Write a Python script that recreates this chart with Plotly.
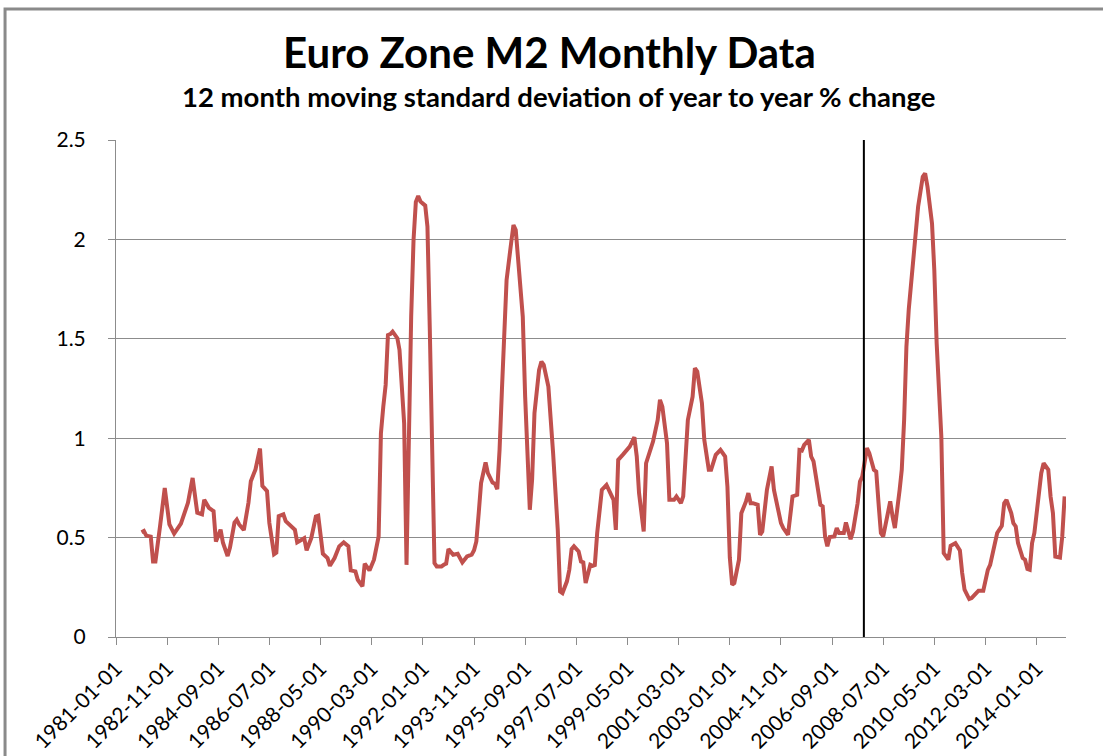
import plotly.graph_objects as go

# Month (YYYY-MM) and value
months = [
    "1981-12", "1982-01", "1982-02", "1982-04", "1982-05", "1982-06", "1982-08", "1982-10", "1982-12",
    "1983-02", "1983-05", "1983-07", "1983-08", "1983-10", "1983-11", "1983-12",
    "1984-02", "1984-03", "1984-05", "1984-07", "1984-08", "1984-10", "1984-11",
    "1985-01", "1985-02", "1985-04", "1985-05", "1985-06", "1985-08", "1985-10", "1985-11",
    "1986-01", "1986-03", "1986-04", "1986-06", "1986-07", "1986-09", "1986-10", "1986-11",
    "1987-01", "1987-02", "1987-03", "1987-05", "1987-06", "1987-07", "1987-10", "1987-11",
    "1988-01", "1988-03", "1988-04", "1988-06", "1988-08", "1988-09", "1988-11",
    "1989-01", "1989-03", "1989-05", "1989-06", "1989-08", "1989-09", "1989-11", "1989-12",
    "1990-02", "1990-04", "1990-06", "1990-07", "1990-08", "1990-09", "1990-10", "1990-11", "1990-12",
    "1991-02", "1991-03", "1991-04", "1991-05", "1991-06", "1991-07", "1991-08", "1991-09", "1991-10",
    "1991-11", "1991-12",
    "1992-02", "1992-03", "1992-04", "1992-05", "1992-06", "1992-07", "1992-09", "1992-10", "1992-11", "1992-12",
    "1993-02", "1993-04", "1993-06", "1993-08", "1993-10", "1993-11", "1993-12",
    "1994-01", "1994-02", "1994-04", "1994-05", "1994-07", "1994-08", "1994-09", "1994-10", "1994-11",
    "1995-01", "1995-03", "1995-04", "1995-05", "1995-06", "1995-08", "1995-09", "1995-10", "1995-11", "1995-12",
    "1996-01", "1996-03", "1996-04", "1996-05", "1996-07", "1996-09", "1996-11", "1996-12",
    "1997-01", "1997-03", "1997-04", "1997-05", "1997-06", "1997-08", "1997-09", "1997-10", "1997-11",
    "1998-01", "1998-02", "1998-03", "1998-04", "1998-06", "1998-08", "1998-10", "1998-11", "1998-12",
    "1999-01", "1999-03", "1999-05", "1999-06", "1999-08", "1999-09", "1999-10", "1999-12",
    "2000-01", "2000-03", "2000-04", "2000-06", "2000-07", "2000-08", "2000-10", "2000-11",
    "2001-01", "2001-02", "2001-04", "2001-05", "2001-06", "2001-07", "2001-09", "2001-10", "2001-11",
    "2002-01", "2002-02", "2002-04", "2002-05", "2002-07", "2002-09", "2002-11", "2002-12",
    "2003-01", "2003-02", "2003-03", "2003-05", "2003-06", "2003-08", "2003-09", "2003-10", "2003-11",
    "2004-01", "2004-02", "2004-03", "2004-05", "2004-07", "2004-08", "2004-11", "2004-12",
    "2005-02", "2005-03", "2005-04", "2005-06", "2005-07", "2005-08", "2005-09", "2005-11", "2005-12",
    "2006-01", "2006-02", "2006-04", "2006-05", "2006-06", "2006-07", "2006-08", "2006-10", "2006-11", "2006-12",
    "2007-02", "2007-03", "2007-05", "2007-06", "2007-08", "2007-09", "2007-10", "2007-12",
    "2008-01", "2008-03", "2008-04", "2008-05", "2008-06", "2008-07", "2008-09", "2008-10", "2008-11", "2008-12",
    "2009-02", "2009-03", "2009-04", "2009-05", "2009-06", "2009-07", "2009-08", "2009-10", "2009-12",
    "2010-01", "2010-02", "2010-04", "2010-05", "2010-06", "2010-08", "2010-09", "2010-11", "2010-12",
    "2011-02", "2011-04", "2011-05", "2011-06", "2011-08", "2011-09", "2011-11", "2011-12",
    "2012-02", "2012-04", "2012-05", "2012-06", "2012-08", "2012-10", "2012-11", "2012-12",
    "2013-02", "2013-03", "2013-04", "2013-05", "2013-07", "2013-08", "2013-09", "2013-10", "2013-11", "2013-12",
    "2014-02", "2014-03", "2014-04", "2014-06", "2014-07", "2014-08", "2014-09", "2014-11", "2014-12",
    "2015-01",
]

std_dev = [
    0.527, 0.533, 0.51, 0.505, 0.38, 0.38, 0.558, 0.75, 0.566,
    0.52, 0.57, 0.65, 0.675, 0.80, 0.725, 0.625,
    0.617, 0.69, 0.65, 0.633, 0.48, 0.54, 0.474,
    0.407, 0.45, 0.575, 0.59, 0.566, 0.538, 0.675, 0.784,
    0.843, 0.948, 0.76, 0.734, 0.575, 0.416, 0.424, 0.608,
    0.617, 0.583, 0.573, 0.556, 0.539, 0.476, 0.497, 0.436,
    0.497, 0.606, 0.61, 0.419, 0.397, 0.358, 0.397,
    0.456, 0.476, 0.456, 0.335, 0.33, 0.288, 0.255, 0.369,
    0.335, 0.389, 0.506, 1.025, 1.159, 1.268, 1.519, 1.524, 1.536,
    1.503, 1.444, 1.276, 1.075, 0.363, 1.075, 1.611, 1.997, 2.189,
    2.218, 2.19,
    2.17, 2.064, 1.544, 0.874, 0.372, 0.355, 0.355, 0.363, 0.369, 0.442,
    0.414, 0.419, 0.375, 0.405, 0.414, 0.436, 0.481,
    0.623, 0.774, 0.878, 0.824, 0.777, 0.771, 0.744, 0.941, 1.243,
    1.796, 1.98, 2.072, 2.047, 1.913, 1.611, 1.209, 0.874, 0.64, 0.791,
    1.126, 1.343, 1.385, 1.369, 1.26, 0.925, 0.539, 0.229,
    0.221, 0.28, 0.338, 0.442, 0.456, 0.43, 0.38, 0.375, 0.271,
    0.363, 0.358, 0.362, 0.523, 0.74, 0.765, 0.715, 0.69, 0.539,
    0.891, 0.916, 0.945, 0.958, 1.005, 0.908, 0.724, 0.531,
    0.874, 0.958, 0.983, 1.092, 1.193, 1.159, 0.975, 0.69,
    0.69, 0.707, 0.673, 0.707, 0.891, 1.092, 1.209, 1.352, 1.335,
    1.176, 0.992, 0.841, 0.841, 0.916, 0.941, 0.908, 0.757,
    0.40, 0.263, 0.271, 0.389, 0.623, 0.682, 0.724, 0.673, 0.673,
    0.665, 0.514, 0.531, 0.74, 0.858, 0.74, 0.573, 0.548,
    0.514, 0.606, 0.707, 0.715, 0.941, 0.938, 0.966, 0.992, 0.908,
    0.883, 0.807, 0.665, 0.657, 0.506, 0.456, 0.503, 0.506, 0.548, 0.523,
    0.523, 0.576, 0.492, 0.531, 0.673, 0.782, 0.807, 0.95,
    0.925, 0.841, 0.832, 0.673, 0.523, 0.506, 0.623, 0.682, 0.606, 0.548,
    0.74, 0.841, 1.092, 1.461, 1.65, 1.77, 1.879, 2.164, 2.315,
    2.332, 2.265, 2.08, 1.846, 1.477, 1.008, 0.422, 0.389, 0.459,
    0.472, 0.436, 0.322, 0.238, 0.191, 0.196, 0.221, 0.233,
    0.233, 0.338, 0.363, 0.422, 0.523, 0.559, 0.673, 0.69,
    0.623, 0.573, 0.556, 0.472, 0.397, 0.389, 0.342, 0.338, 0.472, 0.523,
    0.757, 0.824, 0.874, 0.841, 0.707, 0.623, 0.405, 0.40, 0.506,
    0.707,
]

tick_labels = [
    "1981-01-01", "1982-11-01", "1984-09-01", "1986-07-01", "1988-05-01", "1990-03-01",
    "1992-01-01", "1993-11-01", "1995-09-01", "1997-07-01", "1999-05-01", "2001-03-01",
    "2003-01-01", "2004-11-01", "2006-09-01", "2008-07-01", "2010-05-01", "2012-03-01",
    "2014-01-01",
]

marker_date = "2007-10-22"
x_range = ["1981-01-01", "2015-01-19"]
y_ticks = [0, 0.5, 1, 1.5, 2, 2.5]
y_tick_text = ["0", "0.5", "1", "1.5", "2", "2.5"]

FONT = "Lato"
GRID = "#8c8c8c"

fig = go.Figure()
fig.add_trace(go.Scatter(
    x=months, y=std_dev, mode="lines",
    line=dict(color="#C0504D", width=4),
    showlegend=False, hoverinfo="x+y",
))

fig.update_layout(
    width=1103, height=756,
    margin=dict(l=116, r=37, t=140, b=119),
    paper_bgcolor="white", plot_bgcolor="white",
    font=dict(family=FONT, color="#000000"),
    xaxis=dict(
        type="date", range=x_range,
        tickmode="array", tickvals=tick_labels, ticktext=tick_labels,
        tickangle=-45, tickfont=dict(size=21, family=FONT, color="#000"),
        ticks="outside", ticklen=7, tickcolor=GRID, tickwidth=1,
        ticklabelstandoff=3,
        showgrid=False, showline=True, linecolor=GRID, linewidth=1,
        zeroline=False, automargin=False,
    ),
    yaxis=dict(
        range=[0, 2.5], tickmode="array", tickvals=y_ticks, ticktext=y_tick_text,
        tickfont=dict(size=21, family=FONT, color="#000"),
        ticks="outside", ticklen=7, tickcolor=GRID,
        ticklabelstandoff=18,
        showgrid=True, gridcolor=GRID, gridwidth=1,
        showline=True, linecolor=GRID, linewidth=1, zeroline=False,
        automargin=False,
    ),
    annotations=[
        dict(text="<b>Euro Zone M2 Monthly Data</b>", xref="paper", yref="paper",
             x=0.4568, y=1.177, xanchor="center", yanchor="middle",
             showarrow=False, font=dict(size=42, family=FONT, color="#000")),
        dict(text="<b>12 month moving standard deviation of year to year % change</b>",
             xref="paper", yref="paper", x=0.466, y=1.0885,
             xanchor="center", yanchor="middle", showarrow=False,
             font=dict(size=27.5, family=FONT, color="#000")),
    ],
    shapes=[
        dict(type="line", xref="x", yref="paper", x0=marker_date, x1=marker_date,
             y0=0, y1=1, line=dict(color="#000000", width=2)),
        dict(type="rect", xref="paper", yref="paper",
             x0=-0.1168, x1=1.06, y0=-0.3, y1=1.2636,
             line=dict(color="#8a8a8a", width=3), fillcolor="rgba(0,0,0,0)",
             layer="below"),
    ],
)

fig.write_html(
    "out.html",
    config={"displayModeBar": False},
    post_script="document.body.style.margin='0';document.body.style.overflow='hidden';",
)
